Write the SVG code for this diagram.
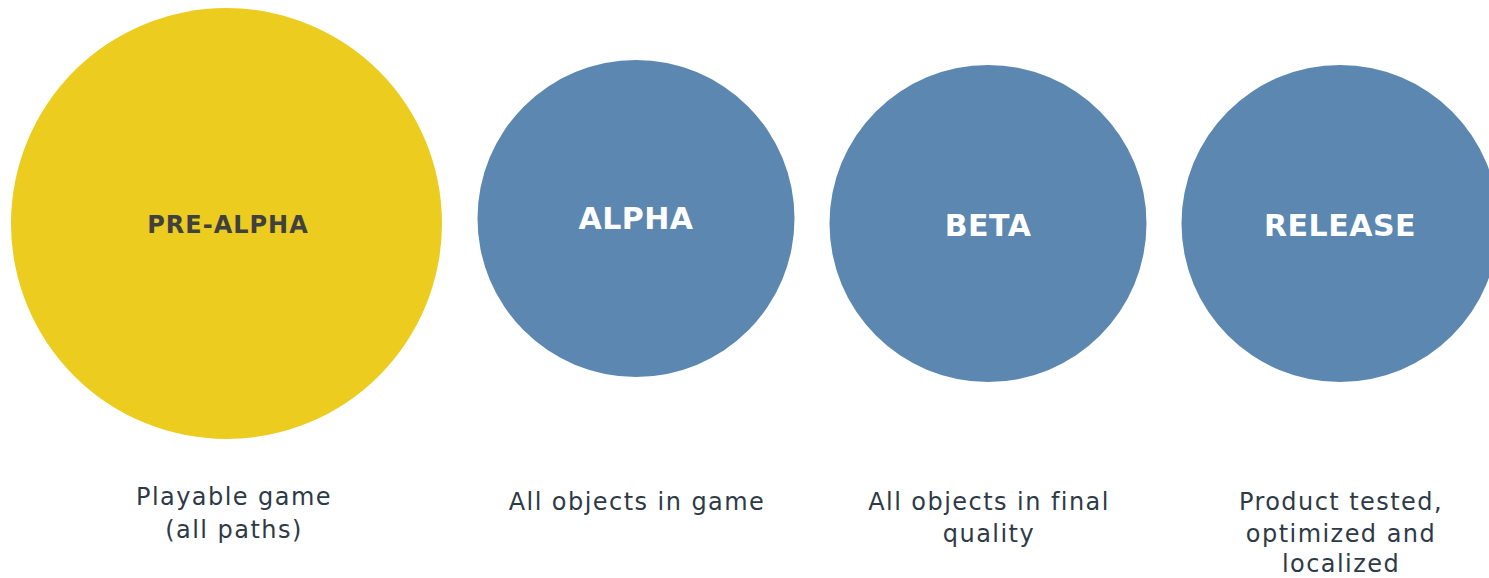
<svg xmlns="http://www.w3.org/2000/svg" width="1489" height="578" viewBox="0 0 1489 578">
  <style>
    .stage { fill: #5B87B0; }
    .stage.current { fill: #EBCC1F; }
    .title { font-family: "DejaVu Sans", "Noto Sans", sans-serif; font-weight: 700; text-anchor: middle; fill: #FFFFFF; font-size: 30px; letter-spacing: 0.5px; }
    .title.dark { fill: #404040; font-size: 24px; letter-spacing: 1px; }
    .note { font-family: "DejaVu Sans", "Noto Sans", sans-serif; font-size: 24px; letter-spacing: 1.45px; text-anchor: middle; fill: #2E3A46; }
  </style>
  <rect width="1489" height="578" fill="#FFFFFF"/>
  <g id="connectors"/>
  <g id="pre-alpha">
    <circle class="stage current" cx="226.5" cy="223.5" r="215.5"/>
    <text class="title dark" x="228" y="233">PRE-ALPHA</text>
    <text class="note" x="234" y="505">Playable game</text>
    <text class="note" x="234" y="538">(all paths)</text>
  </g>
  <g id="alpha">
    <circle class="stage" cx="636" cy="218.5" r="158.5"/>
    <text class="title" x="636" y="229">ALPHA</text>
    <text class="note" x="637" y="510">All objects in game</text>
  </g>
  <g id="beta">
    <circle class="stage" cx="988" cy="223.5" r="158.5"/>
    <text class="title" x="988" y="236">BETA</text>
    <text class="note" x="989" y="510">All objects in final</text>
    <text class="note" x="989" y="542">quality</text>
  </g>
  <g id="release">
    <circle class="stage" cx="1340" cy="223.5" r="158.5"/>
    <text class="title" x="1340" y="236">RELEASE</text>
    <text class="note" x="1341" y="510">Product tested,</text>
    <text class="note" x="1341" y="542">optimized and</text>
    <text class="note" x="1341" y="572">localized</text>
  </g>
</svg>
